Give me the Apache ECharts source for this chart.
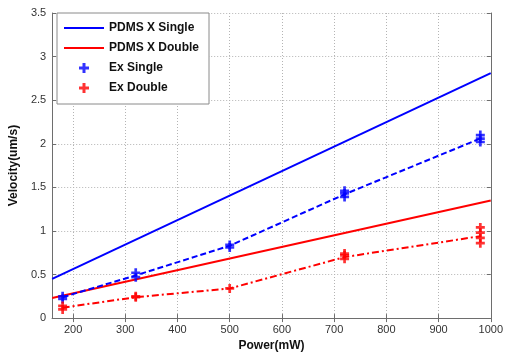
<!DOCTYPE html>
<html>
<head>
<meta charset="utf-8">
<script src="https://cdn.jsdelivr.net/npm/echarts@6/dist/echarts.min.js"></script>
<style>
  html, body { margin: 0; padding: 0; background: #fff; }
  #chart { width: 506px; height: 357px; }
</style>
</head>
<body>
<div id="chart"></div>
<script>
// Power levels (mW) where velocity was measured
const powers = [180, 320, 500, 720, 980];

// Mean measured velocities (um/s)
const exSingleMean = [0.24, 0.49, 0.83, 1.42, 2.06];
const exDoubleMean = [0.12, 0.24, 0.34, 0.70, 0.94];

// Individual measurements [power, velocity]
const exSinglePoints = [
  [180, 0.22], [180, 0.25],
  [320, 0.47], [320, 0.52],
  [500, 0.81], [500, 0.84],
  [720, 1.39], [720, 1.43], [720, 1.46],
  [980, 2.02], [980, 2.06], [980, 2.10]
];
const exDoublePoints = [
  [180, 0.10], [180, 0.14],
  [320, 0.24], [320, 0.25],
  [500, 0.34],
  [720, 0.68], [720, 0.72], [720, 0.74],
  [980, 0.86], [980, 0.92], [980, 0.98], [980, 1.04]
];

// Simulated PDMS model lines (endpoints across the power range)
const pdmsSingle = [[160, 0.45], [1000, 2.81]];
const pdmsDouble = [[160, 0.23], [1000, 1.35]];

const xTicks = [200, 300, 400, 500, 600, 700, 800, 900, 1000];

const plus = 'path://M3.5 0H6.5V3.5H10V6.5H6.5V10H3.5V6.5H0V3.5H3.5Z';
const lineIcon = 'path://M0 0H40V2H0Z';
const BLUE = '#0000ff';
const RED = '#ff0000';
const FONT = '"Liberation Sans", Arial, sans-serif';

const chart = echarts.init(document.getElementById('chart'), null, { renderer: 'canvas' });

const gridLine = { show: true, lineStyle: { color: '#b4b4b4', type: [1, 2], width: 1 } };
const axisLine = { show: true, lineStyle: { color: '#6e6e6e', width: 1 } };
const tickStyle = { color: '#6e6e6e' };

chart.setOption({
  animation: false,
  backgroundColor: '#fff',
  textStyle: { fontFamily: FONT },
  grid: { left: 51, right: 13, top: 13, bottom: 35 },
  legend: {
    orient: 'vertical',
    left: 57,
    top: 13,
    padding: [9, 10, 10, 7],
    itemGap: 8,
    itemWidth: 40,
    itemHeight: 10,
    symbolKeepAspect: true,
    backgroundColor: '#fff',
    borderColor: '#8a8a8a',
    borderWidth: 1,
    textStyle: { fontFamily: FONT, fontWeight: 'bold', fontSize: 12, color: '#111' },
    data: [
      { name: 'PDMS X Single', icon: lineIcon, itemStyle: { color: BLUE } },
      { name: 'PDMS X Double', icon: lineIcon, itemStyle: { color: RED } },
      { name: 'Ex Single' },
      { name: 'Ex Double' }
    ]
  },
  xAxis: [
    {
      type: 'value', min: 160, max: 1000,
      name: 'Power(mW)', nameLocation: 'middle', nameGap: 20,
      nameTextStyle: { fontFamily: FONT, fontWeight: 'bold', fontSize: 12, color: '#111' },
      axisLine: axisLine,
      axisTick: { show: true, inside: true, length: 4, customValues: xTicks, lineStyle: tickStyle },
      axisLabel: {
        customValues: xTicks, fontSize: 11, color: '#333', margin: 6, fontFamily: FONT,
        formatter: v => String(v)
      },
      splitLine: gridLine
    },
    {
      type: 'value', min: 160, max: 1000, position: 'top',
      axisLine: axisLine,
      axisTick: { show: true, inside: true, length: 4, customValues: xTicks, lineStyle: tickStyle },
      axisLabel: { show: false, customValues: xTicks },
      splitLine: { show: false }
    }
  ],
  yAxis: [
    {
      type: 'value', min: 0, max: 3.5, interval: 0.5,
      name: 'Velocity(um/s)', nameLocation: 'middle', nameGap: 31,
      nameTextStyle: { fontFamily: FONT, fontWeight: 'bold', fontSize: 12, color: '#111' },
      axisLine: axisLine,
      axisTick: { show: true, inside: true, length: 4, lineStyle: tickStyle },
      axisLabel: { fontSize: 11, color: '#333', margin: 6, fontFamily: FONT },
      splitLine: gridLine
    },
    {
      type: 'value', min: 0, max: 3.5, interval: 0.5, position: 'right',
      axisLine: axisLine,
      axisTick: { show: true, inside: true, length: 4, lineStyle: tickStyle },
      axisLabel: { show: false },
      splitLine: { show: false }
    }
  ],
  series: [
    {
      name: 'PDMS X Single', type: 'line', data: pdmsSingle,
      showSymbol: false, symbol: 'none', color: BLUE,
      lineStyle: { color: BLUE, width: 2 }, z: 3
    },
    {
      name: 'PDMS X Double', type: 'line', data: pdmsDouble,
      showSymbol: false, symbol: 'none', color: RED,
      lineStyle: { color: RED, width: 2 }, z: 3
    },
    {
      name: 'Ex Single fit', type: 'line',
      data: powers.map((p, i) => [p, exSingleMean[i]]),
      showSymbol: false, symbol: 'none', color: BLUE,
      lineStyle: { color: BLUE, width: 2, type: [6, 3] }, z: 3
    },
    {
      name: 'Ex Double fit', type: 'line',
      data: powers.map((p, i) => [p, exDoubleMean[i]]),
      showSymbol: false, symbol: 'none', color: RED,
      lineStyle: { color: RED, width: 2, type: [7, 3, 2, 3] }, z: 3
    },
    {
      name: 'Ex Single', type: 'scatter', data: exSinglePoints,
      symbol: plus, symbolSize: 9, color: BLUE,
      itemStyle: { color: BLUE }, z: 4
    },
    {
      name: 'Ex Double', type: 'scatter', data: exDoublePoints,
      symbol: plus, symbolSize: 9, color: RED,
      itemStyle: { color: RED }, z: 4
    }
  ]
});
</script>
</body>
</html>
